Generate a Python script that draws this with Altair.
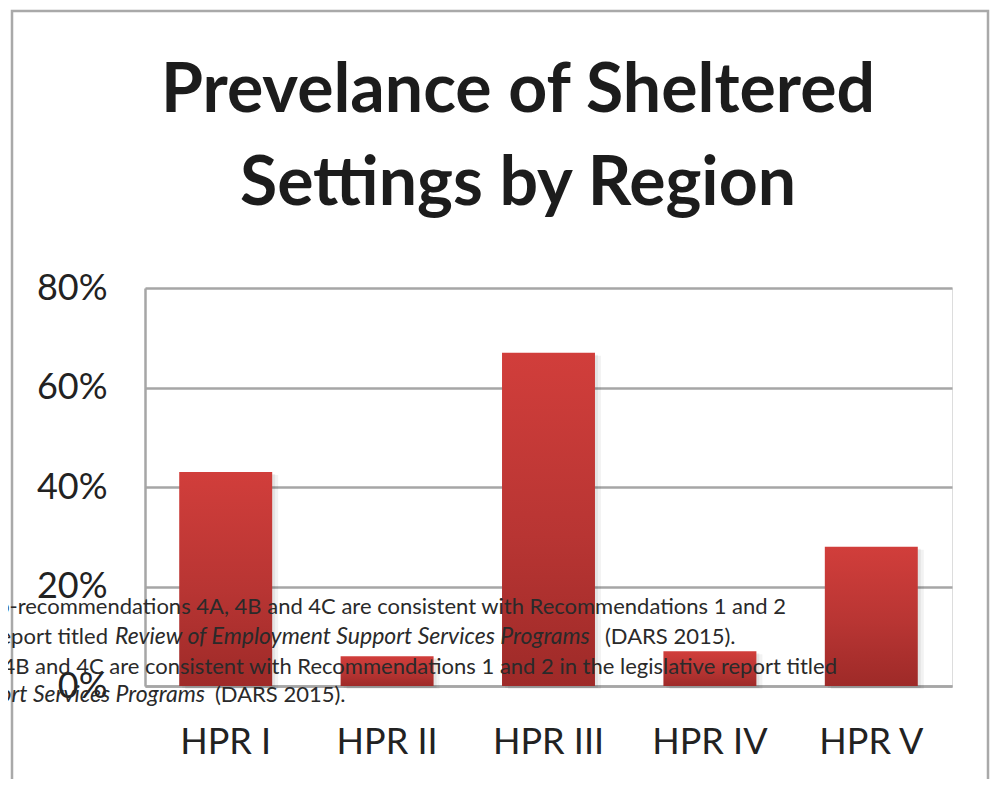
import altair as alt
import pandas as pd

# ---- data ----
regions = ["HPR I", "HPR II", "HPR III", "HPR IV", "HPR V"]
shares = [0.43, 0.06, 0.67, 0.07, 0.28]
y_ticks = [0.0, 0.2, 0.4, 0.6, 0.8]
title_lines = ["Prevelance of Sheltered", "Settings by Region"]

# overlapping footnote text that bleeds into the reference picture
note_line1 = "Sub-recommendations 4A, 4B and 4C are consistent with Recommendations 1 and 2"
note_line2a = "in the legislative report titled"
note_line2b = "Review of Employment Support Services Programs"
note_line2c = "(DARS 2015)."
note_line3 = "Sub-recommendations 4A, 4B and 4C are consistent with Recommendations 1 and 2 in the legislative report titled"
note_line4a = "Review of Employment Support Services Programs"
note_line4b = "(DARS 2015)."

df = pd.DataFrame({"region": regions, "share": shares})

W, H = 807, 398
FONT = "Lato"
GRID = "#a6a6a6"
TXT = "#222222"

base = alt.Chart(df)

x_enc = alt.X(
    "region:N",
    sort=regions,
    scale=alt.Scale(paddingInner=0.424, paddingOuter=0.212),
    axis=alt.Axis(
        title=None, labelAngle=0, labelFont=FONT, labelFontSize=36,
        labelColor=TXT, labelPadding=39, ticks=False, tickSize=0,
        domain=True, domainColor=GRID, domainWidth=2.5, labelLimit=400,
    ),
)
y_enc = alt.Y(
    "share:Q",
    scale=alt.Scale(domain=[0, 0.8]),
    axis=alt.Axis(
        title=None, values=y_ticks, format=".0%", labelFont=FONT,
        labelFontSize=36, labelColor=TXT, labelPadding=38, ticks=False,
        tickSize=0, grid=True, gridColor=GRID, gridWidth=2.5,
        domain=True, domainColor=GRID, domainWidth=2.5,
    ),
)

frame = alt.Chart(pd.DataFrame({"k": [0]})).mark_rect(
    fillOpacity=0, stroke="#a9a9a9", strokeWidth=2.5
).encode(
    x=alt.value(-133), x2=alt.value(843), y=alt.value(-277), y2=alt.value(540)
)

shadow1 = base.mark_bar(color="#000000", opacity=0.06, xOffset=3, yOffset=2).encode(
    x=x_enc, y=y_enc
)
shadow2 = base.mark_bar(color="#000000", opacity=0.05, xOffset=6, yOffset=3).encode(
    x=x_enc, y=y_enc
)

grad = alt.Gradient(
    gradient="linear",
    stops=[
        alt.GradientStop(color="#d13e3b", offset=0),
        alt.GradientStop(color="#b83533", offset=0.55),
        alt.GradientStop(color="#9e2a28", offset=1),
    ],
    x1=0, x2=0, y1=0, y2=1,
)
bars = base.mark_bar(fill=grad).encode(x=x_enc, y=y_enc)


def title_line(text, y):
    return alt.Chart(pd.DataFrame({"t": [text]})).mark_text(
        font=FONT, fontSize=68, fontWeight="bold", color="#1c1c1c",
        align="center", baseline="alphabetic",
    ).encode(text="t:N", x=alt.value(373), y=alt.value(y))


titles = [title_line(title_lines[0], -176), title_line(title_lines[1], -83)]


def note(text, x, y, align, italic=False):
    return alt.Chart(pd.DataFrame({"t": [text]})).mark_text(
        font=FONT, fontSize=23 if italic else 22, color="#2a2a2a", align=align,
        baseline="middle", fontStyle="italic" if italic else "normal",
    ).encode(text="t:N", x=alt.value(x), y=alt.value(y))


notes = [
    note(note_line1, 641, 319, "right"),
    note(note_line2a, -37, 349, "right"),
    note(note_line2b, -30, 349, "left", True),
    note(note_line2c, 460, 349, "left"),
    note(note_line3, 692, 379, "right"),
    note(note_line4a, 60, 407, "right", True),
    note(note_line4b, 70, 407, "left"),
]

chart = alt.layer(frame, shadow2, shadow1, bars, *titles, *notes).properties(
    width=W,
    height=H,
    padding={"left": 137, "top": 280, "right": 39, "bottom": 93},
    autosize=alt.AutoSizeParams(type="none"),
).configure_view(stroke=None).configure(background="white")

chart.save("out.html", embed_options={"renderer": "svg", "actions": False})
